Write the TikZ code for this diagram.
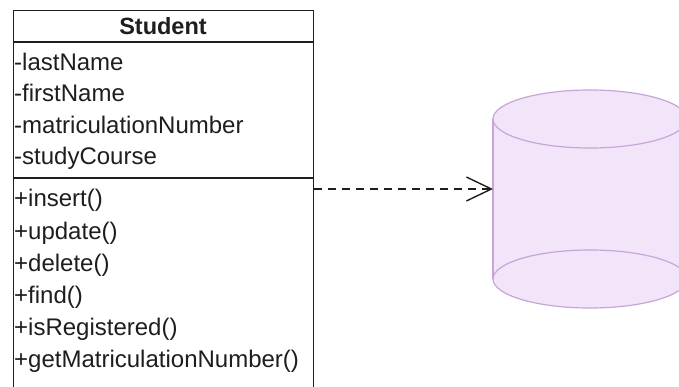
\documentclass[tikz,border=0pt]{standalone}
\usepackage{fontspec}
\setmainfont{Liberation Sans}
\usetikzlibrary{arrows.meta}
\definecolor{dbfill}{HTML}{F3E5F9}
\definecolor{dbline}{HTML}{C6A6D8}
\definecolor{ink}{HTML}{1E1E1E}
\tikzset{
  classbox/.style={draw=ink, line width=1.3pt, inner sep=0pt, anchor=north west},
  member/.style={anchor=base west, inner sep=0pt, text=ink, font=\fontsize{24}{28}\selectfont},
  classname/.style={anchor=base, inner sep=0pt, text=ink, font=\fontsize{23.5}{28}\selectfont\bfseries},
  divider/.style={draw=ink, line width=1.3pt},
  dependency/.style={draw=ink, line width=1.4pt, dash pattern=on 8pt off 6pt,
    -{Straight Barb[length=25pt, width=24pt, line width=1.4pt]}},
  dbbody/.style={fill=dbfill, draw=none},
  dbedge/.style={draw=dbline, line width=1.2pt},
}
\begin{document}
\begin{tikzpicture}[x=1pt, y=-1pt]
\useasboundingbox (0,0) rectangle (679,387);
\fill[white] (0,0) rectangle (679,387);
\clip (0,0) rectangle (679,387);

% class box (runs past the lower edge)
\node[classbox, minimum width=300pt, minimum height=400pt] (cls) at (13,10) {};
\draw[divider] (cls.west |- 0,42) -- (cls.east |- 0,42);
\draw[divider] (cls.west |- 0,178) -- (cls.east |- 0,178);

\node[classname] (title) at (163,35) {Student};

\node[member] (a1) at (14,71)  {-lastName};
\node[member] (a2) at (14,102) {-firstName};
\node[member] (a3) at (14,134) {-matriculationNumber};
\node[member] (a4) at (14,165) {-studyCourse};

\node[member] (m1) at (14,207) {+insert()};
\node[member] (m2) at (14,239) {+update()};
\node[member] (m3) at (14,271) {+delete()};
\node[member] (m4) at (14,303) {+find()};
\node[member] (m5) at (14,335) {+isRegistered()};
\node[member] (m6) at (14,367) {+getMatriculationNumber()};

% database cylinder
\fill[dbbody] (590,279) ellipse [x radius=97, y radius=29];
\fill[dbbody] (493,119) rectangle (687,279);
\fill[dbbody] (590,119) ellipse [x radius=97, y radius=29];
\draw[dbedge] (493,119) -- (493,279);
\draw[dbedge] (687,119) -- (687,279);
\draw[dbedge] (590,119) ellipse [x radius=97, y radius=29];
\draw[dbedge] (590,279) ellipse [x radius=97, y radius=29];
\coordinate (db) at (493,189);

% dependency
\draw[dependency] (cls.east |- db) -- (db);
\end{tikzpicture}
\end{document}
